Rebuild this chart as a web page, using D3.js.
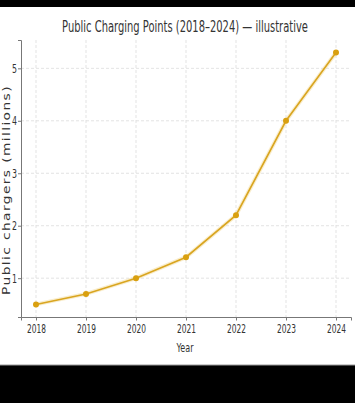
<!DOCTYPE html>
<html><head><meta charset="utf-8">
<script src="https://cdn.jsdelivr.net/npm/d3@7"></script>
<style>html,body{margin:0;padding:0;background:#000;}svg{display:block;}</style>
</head><body>
<svg id="c" width="355" height="403"></svg>
<script>
const years = [2018, 2019, 2020, 2021, 2022, 2023, 2024];
const chargers = [0.5, 0.7, 1.0, 1.4, 2.2, 4.0, 5.3];
const yTicks = [1, 2, 3, 4, 5];
const title = "Public Charging Points (2018–2024) — illustrative";
const xLabel = "Year";
const yLabel = "Public chargers (millions)";

const svg = d3.select("#c");
svg.append("rect").attr("x",0).attr("y",7).attr("width",355).attr("height",358).attr("fill","#fff");
svg.append("line").attr("x1",0).attr("x2",355).attr("y1",365).attr("y2",365).attr("stroke","#999").attr("stroke-width",1);

const L = 21, R = 351, T = 40, B = 317;
const x = d3.scaleLinear().domain([2017.7, 2024.3]).range([L, R]);
const y = d3.scaleLinear().domain([0.26, 5.54]).range([B, T]);

function squeeze(sel, w) {
  sel.each(function() {
    const n = this.getComputedTextLength();
    const s = w / n;
    const t = d3.select(this);
    const cx = +t.attr("x") || 0;
    const prev = t.attr("transform") || "";
    t.attr("transform", `${prev} translate(${cx},0) scale(${s},1) translate(${-cx},0)`);
  });
}

const g = svg.append("g");
g.selectAll(".vg").data(years).join("line")
  .attr("x1", d=>x(d)).attr("x2", d=>x(d)).attr("y1", T).attr("y2", B)
  .attr("stroke","#dcdcdc").attr("stroke-width",0.8).attr("stroke-dasharray","3,2");
g.selectAll(".hg").data(yTicks).join("line")
  .attr("x1", L).attr("x2", R).attr("y1", d=>y(d)).attr("y2", d=>y(d))
  .attr("stroke","#dcdcdc").attr("stroke-width",0.8).attr("stroke-dasharray","3,2");

const xa = svg.append("g").attr("transform",`translate(0,${B})`)
  .call(d3.axisBottom(x).tickValues(years).tickFormat(d3.format("d")).tickSize(3.5).tickPadding(3));
const ya = svg.append("g").attr("transform",`translate(${L},0)`)
  .call(d3.axisLeft(y).tickValues(yTicks).tickFormat(d3.format("d")).tickSize(3).tickPadding(1));
[xa, ya].forEach(a => {
  a.select(".domain").attr("stroke","#777").attr("stroke-width",1);
  a.selectAll(".tick line").attr("stroke","#777");
  a.selectAll("text").attr("font-family","DejaVu Sans").attr("font-size",13).attr("fill","#333");
});
squeeze(xa.selectAll(".tick text"), 19);
squeeze(ya.selectAll(".tick text"), 5);

const line = d3.line().x((d,i)=>x(years[i])).y(d=>y(d));
svg.append("path").datum(chargers).attr("d", line)
  .attr("fill","none").attr("stroke","#f3dc9a").attr("stroke-width",4).attr("opacity",0.5);
svg.append("path").datum(chargers).attr("d", line)
  .attr("fill","none").attr("stroke","#d9a520").attr("stroke-width",1.6);
svg.selectAll(".pt").data(chargers).join("circle")
  .attr("cx",(d,i)=>x(years[i])).attr("cy",d=>y(d)).attr("r",3).attr("fill","#d9a010");

const tt = svg.append("text").attr("x",185).attr("y",32).attr("text-anchor","middle")
  .attr("font-family","DejaVu Sans").attr("font-size",16).attr("fill","#333").text(title);
squeeze(tt, 246);
const xl = svg.append("text").attr("x",185).attr("y",352).attr("text-anchor","middle")
  .attr("font-family","DejaVu Sans").attr("font-size",12).attr("fill","#333").text(xLabel);
squeeze(xl, 17);
const yl = svg.append("text").attr("x",0).attr("y",0).attr("text-anchor","middle")
  .attr("font-family","DejaVu Sans").attr("font-size",10).attr("fill","#333")
  .attr("letter-spacing","1px").attr("transform","translate(9.5,190) rotate(-90)").text(yLabel);
squeeze(yl, 210);
</script>
</body></html>
